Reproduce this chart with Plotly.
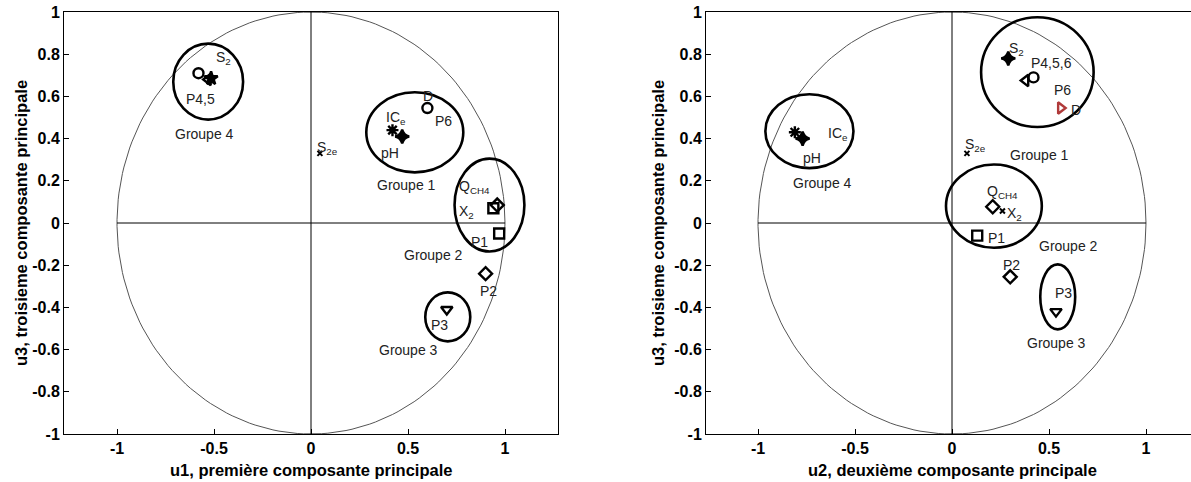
import math

import plotly.graph_objects as go

W, H = 1191, 482

# ---- left panel: u1 vs u3 ----
left_x = [-0.58, -0.53, -0.515, 0.046, 0.42, 0.47, 0.60, 0.94, 0.96, 0.97, 0.90, 0.70]
left_y = [0.71, 0.68, 0.685, 0.33, 0.44, 0.41, 0.545, 0.07, 0.085, -0.05, -0.24, -0.41]
left_sym = ["circle-open", "triangle-left-open", "star", "x-thin", "asterisk", "star-diamond",
            "circle-open", "square-open", "diamond-open", "square-open", "diamond-open",
            "triangle-down-open"]

left_lbl = ["S<sub>2</sub>", "P4,5", "S<sub>2e</sub>", "IC<sub>e</sub>", "pH", "D", "P6",
            "Q<sub>CH4</sub>", "X<sub>2</sub>", "P1", "P2", "P3",
            "Groupe 4", "Groupe 1", "Groupe 2", "Groupe 3"]
left_lbl_x = [-0.45, -0.57, 0.085, 0.44, 0.405, 0.605, 0.685, 0.845, 0.80, 0.87, 0.915, 0.66,
              -0.55, 0.49, 0.63, 0.505]
left_lbl_y = [0.78, 0.59, 0.355, 0.50, 0.33, 0.60, 0.485, 0.17, 0.05, -0.09, -0.32, -0.485,
              0.42, 0.18, -0.15, -0.60]

# group circles: centre x, centre y, half-width, half-height
left_grp_cx = [-0.53, 0.535, 0.92, 0.705]
left_grp_cy = [0.67, 0.43, 0.085, -0.445]
left_grp_rx = [0.18, 0.25, 0.18, 0.116]
left_grp_ry = [0.18, 0.19, 0.22, 0.116]

# ---- right panel: u2 vs u3 ----
right_x = [0.29, 0.42, 0.38, 0.56, -0.81, -0.77, 0.077, 0.21, 0.26, 0.13, 0.30, 0.536]
right_y = [0.78, 0.69, 0.675, 0.545, 0.43, 0.40, 0.33, 0.077, 0.057, -0.06, -0.255, -0.42]
right_sym = ["star-diamond", "circle-open", "triangle-left-open", "triangle-right-open",
             "asterisk", "star-diamond", "x-thin", "diamond-open", "x-thin", "square-open",
             "diamond-open", "triangle-down-open"]
right_col = ["black", "black", "black", "#b03a3a", "black", "black", "black", "black",
             "black", "black", "black", "black"]

right_lbl = ["S<sub>2</sub>", "P4,5,6", "P6", "D", "IC<sub>e</sub>", "pH", "S<sub>2e</sub>",
             "Q<sub>CH4</sub>", "X<sub>2</sub>", "P1", "P2", "P3",
             "Groupe 1", "Groupe 4", "Groupe 2", "Groupe 3"]
right_lbl_x = [0.33, 0.515, 0.57, 0.64, -0.59, -0.72, 0.12, 0.26, 0.32, 0.23, 0.305, 0.575,
               0.45, -0.67, 0.60, 0.54]
right_lbl_y = [0.825, 0.76, 0.63, 0.535, 0.42, 0.31, 0.37, 0.145, 0.045, -0.07, -0.20, -0.33,
               0.32, 0.19, -0.11, -0.57]

right_grp_cx = [0.44, -0.735, 0.216, 0.545]
right_grp_cy = [0.715, 0.435, 0.08, -0.35]
right_grp_rx = [0.29, 0.227, 0.247, 0.09]
right_grp_ry = [0.26, 0.175, 0.197, 0.154]

X_TICKS = [-1, -0.5, 0, 0.5, 1]
X_TICKTEXT = ["-1", "-0.5", "0", "0.5", "1"]
Y_TICKS = [-1, -0.8, -0.6, -0.4, -0.2, 0, 0.2, 0.4, 0.6, 0.8, 1]
Y_TICKTEXT = ["-1", "-0.8", "-0.6", "-0.4", "-0.2", "0", "0.2", "0.4", "0.6", "0.8", "1"]

TICK_FONT = dict(family="Liberation Sans", size=16, color="black", weight="bold")
LABEL_FONT = dict(family="Liberation Sans", size=14, color="#222222")
TITLE_FONT = dict(family="Liberation Sans", size=16.5, color="black", weight="bold")


def px_x(p):
    return p / W


def px_y(p):
    return 1 - p / H


fig = go.Figure()

L_DOM = [px_x(64), px_x(558)]
R_DOM = [px_x(706), 1.0]
Y_DOM = [px_y(434), px_y(12)]


def circle_pts(n=200):
    t = [2 * math.pi * i / (n - 1) for i in range(n)]
    return [math.cos(a) for a in t], [math.sin(a) for a in t]


def add_panel(xa, ya, xs, ys, syms, cols, lx, ly, lt, gcx, gcy, grx, gry):
    cx, cy = circle_pts()
    fig.add_trace(go.Scatter(x=cx, y=cy, mode="lines", line=dict(color="#555555", width=1),
                             xaxis=xa, yaxis=ya, showlegend=False, hoverinfo="skip"))
    fig.add_trace(go.Scatter(x=[-1, 1], y=[0, 0], mode="lines", line=dict(color="black", width=1),
                             xaxis=xa, yaxis=ya, showlegend=False, hoverinfo="skip"))
    fig.add_trace(go.Scatter(x=[0, 0], y=[-1, 1], mode="lines", line=dict(color="black", width=1),
                             xaxis=xa, yaxis=ya, showlegend=False, hoverinfo="skip"))
    for x, y, s, c in zip(xs, ys, syms, cols):
        small = s == "x-thin"
        fig.add_trace(go.Scatter(
            x=[x], y=[y], mode="markers", xaxis=xa, yaxis=ya, showlegend=False,
            marker=dict(symbol=s, size=5 if small else 10, color=c,
                        line=dict(color=c, width=2 if small else 2.4)),
        ))
    for x, y, t in zip(lx, ly, lt):
        fig.add_annotation(x=x, y=y, text=t, showarrow=False, xref=xa, yref=ya,
                           font=LABEL_FONT)
    for cxv, cyv, rx, ry in zip(gcx, gcy, grx, gry):
        fig.add_shape(type="circle", xref=xa, yref=ya,
                      x0=cxv - rx, x1=cxv + rx, y0=cyv - ry, y1=cyv + ry,
                      line=dict(color="black", width=2.6))


add_panel("x", "y", left_x, left_y, left_sym, ["black"] * len(left_x),
          left_lbl_x, left_lbl_y, left_lbl, left_grp_cx, left_grp_cy, left_grp_rx, left_grp_ry)
add_panel("x2", "y2", right_x, right_y, right_sym, right_col,
          right_lbl_x, right_lbl_y, right_lbl, right_grp_cx, right_grp_cy, right_grp_rx, right_grp_ry)

axis_common = dict(showline=True, mirror=True, linecolor="black", linewidth=1,
                   showgrid=False, zeroline=False, ticks="inside", ticklen=5,
                   tickcolor="black", tickfont=TICK_FONT, automargin=False,
                   ticklabeloverflow="allow")

x_range_l = [-(311 - 64) / 194, (558 - 311) / 194]
x_range_r = [-(952 - 706) / 194, (1191 - 952) / 194]

fig.update_layout(
    width=W, height=H,
    margin=dict(l=0, r=0, t=0, b=0),
    plot_bgcolor="white", paper_bgcolor="white",
    xaxis=dict(domain=L_DOM, range=x_range_l, tickvals=X_TICKS, ticktext=X_TICKTEXT,
               anchor="y", **axis_common),
    yaxis=dict(domain=Y_DOM, range=[-1, 1], tickvals=Y_TICKS, ticktext=Y_TICKTEXT,
               anchor="x", **axis_common),
    xaxis2=dict(domain=R_DOM, range=x_range_r, tickvals=X_TICKS, ticktext=X_TICKTEXT,
                anchor="y2", **axis_common),
    yaxis2=dict(domain=Y_DOM, range=[-1, 1], tickvals=Y_TICKS, ticktext=Y_TICKTEXT,
                anchor="x2", **axis_common),
    font=dict(family="Liberation Sans"),
)

fig.add_annotation(text="u1, première composante principale", xref="paper", yref="paper",
                   x=px_x(311), y=px_y(470), xanchor="center", yanchor="middle",
                   showarrow=False, font=TITLE_FONT)
fig.add_annotation(text="u2, deuxième composante principale", xref="paper", yref="paper",
                   x=px_x(952), y=px_y(470), xanchor="center", yanchor="middle",
                   showarrow=False, font=TITLE_FONT)
fig.add_annotation(text="u3, troisieme composante principale", xref="paper", yref="paper",
                   x=px_x(21), y=px_y(223), xanchor="center", yanchor="middle",
                   showarrow=False, textangle=-90, font=TITLE_FONT)
fig.add_annotation(text="u3, troisieme composante principale", xref="paper", yref="paper",
                   x=px_x(658), y=px_y(223), xanchor="center", yanchor="middle",
                   showarrow=False, textangle=-90, font=TITLE_FONT)

# drop the browser's default 8 px body margin so the figure fills the window
fig.write_html("out.html", config={"displayModeBar": False},
               post_script="document.body.style.margin = '0';")
